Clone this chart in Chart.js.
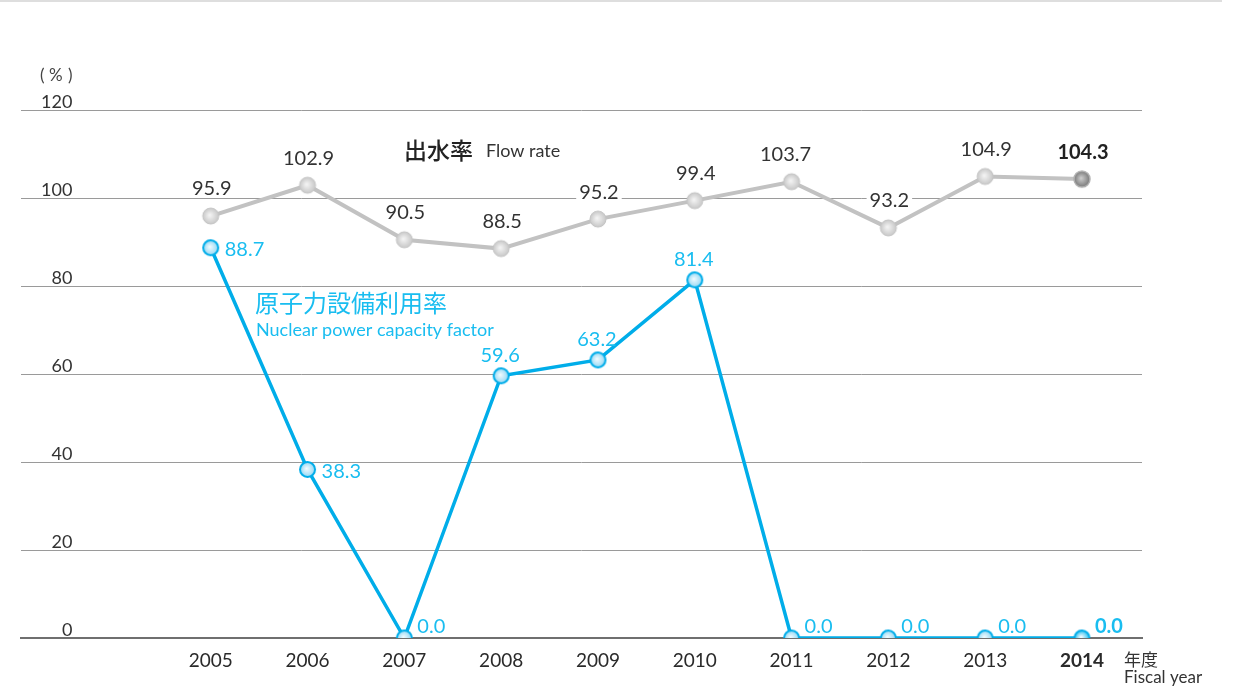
<!DOCTYPE html>
<html>
<head>
<meta charset="utf-8">
<script src="https://cdn.jsdelivr.net/npm/chart.js@4.4.1/dist/chart.umd.min.js"></script>
<style>
  html, body { margin: 0; padding: 0; background: #fff; }
  #wrap { width: 1237px; height: 686px; position: relative; }
</style>
</head>
<body>
<div id="wrap"><canvas id="chart"></canvas></div>
<script>
// Data
const years = [2005, 2006, 2007, 2008, 2009, 2010, 2011, 2012, 2013, 2014];
const flowRate = [95.9, 102.9, 90.5, 88.5, 95.2, 99.4, 103.7, 93.2, 104.9, 104.3];
const nuclearFactor = [88.7, 38.3, 0.0, 59.6, 63.2, 81.4, 0.0, 0.0, 0.0, 0.0];
const yTicks = [0, 20, 40, 60, 80, 100, 120];

const FONT = 'Lato, "Noto Sans CJK JP", sans-serif';
const CJK = '"Noto Sans CJK JP", Lato, sans-serif';
const GRAY = '#c2c2c2';
const CYAN = '#00ade9';
const CYAN_TEXT = '#19bdf0';

// Marker images (small gradient circles)
function marker(inner, outer, border, borderWidth, r) {
    const c = document.createElement('canvas');
    const size = (r + 2) * 2;
    c.width = size;
    c.height = size;
    const g = c.getContext('2d');
    const m = size / 2;
    const grad = g.createRadialGradient(m - 1, m - 1, 0, m, m, r);
    grad.addColorStop(0, inner);
    grad.addColorStop(1, outer);
    g.beginPath();
    g.arc(m, m, r, 0, Math.PI * 2);
    g.fillStyle = grad;
    g.fill();
    g.lineWidth = borderWidth;
    g.strokeStyle = border;
    g.stroke();
    return c;
}
const grayDot = marker('#f6f6f6', '#c8c8c8', '#c4c4c4', 1, 8);
const grayDotLast = marker('#cfcfcf', '#7a7a7a', '#b0b0b0', 1.5, 8);
const cyanDot = marker('#f4fcff', '#94d8f4', CYAN, 2, 7.5);
const cyanDotLast = marker('#ffffff', '#2ec0f0', CYAN, 2, 7.5);

const flowStyles = years.map((y, i) => i === years.length - 1 ? grayDotLast : grayDot);
const nuclearStyles = years.map((y, i) => i === years.length - 1 ? cyanDotLast : cyanDot);

// Where each nuclear label goes relative to its point
const nuclearLabelPos = ['right', 'right', 'upright', 'above', 'above', 'above', 'upright', 'upright', 'upright', 'upright'];

// Value labels + free text
const labelsPlugin = {
    id: 'labels',
    afterDatasetsDraw(chart) {
        const ctx = chart.ctx;
        const last = years.length - 1;
        ctx.save();
        ctx.textBaseline = 'middle';

        // flow rate labels, above the points, white backing masks grid
        chart.getDatasetMeta(1).data.forEach((pt, i) => {
            const txt = flowRate[i].toFixed(1);
            ctx.font = (i === last ? 'bold ' : '') + '20px ' + FONT;
            const w = ctx.measureText(txt).width;
            const x = pt.x + (i === 6 ? -6 : 1);
            const y = pt.y - 27;
            ctx.fillStyle = '#fff';
            ctx.fillRect(x - w / 2 - 3, y - 7, w + 6, 14);
            ctx.fillStyle = i === last ? '#222' : '#333';
            ctx.textAlign = 'center';
            ctx.fillText(txt, x, y);
        });

        // nuclear factor labels
        chart.getDatasetMeta(0).data.forEach((pt, i) => {
            const txt = nuclearFactor[i].toFixed(1);
            ctx.font = (i === last ? 'bold ' : '') + '20px ' + FONT;
            ctx.fillStyle = CYAN_TEXT;
            const pos = nuclearLabelPos[i];
            if (pos === 'above') {
                ctx.textAlign = 'center';
                ctx.fillText(txt, pt.x - 1, pt.y - 20);
            } else if (pos === 'right') {
                ctx.textAlign = 'left';
                ctx.fillText(txt, pt.x + 14, pt.y + 2);
            } else {
                ctx.textAlign = 'left';
                ctx.fillText(txt, pt.x + 13, pt.y - 11);
            }
        });

        // series names
        ctx.textAlign = 'left';
        ctx.fillStyle = '#222';
        ctx.font = '500 23px ' + CJK;
        ctx.fillText('出水率', 404, 150);
        ctx.fillStyle = '#333';
        ctx.font = '18px ' + FONT;
        ctx.fillText('Flow rate', 486, 151);

        ctx.fillStyle = CYAN_TEXT;
        ctx.font = '24px ' + CJK;
        ctx.fillText('原子力設備利用率', 255, 303);
        ctx.font = '18px ' + FONT;
        ctx.fillText('Nuclear power capacity factor', 256, 330);

        // axis captions
        ctx.fillStyle = '#444';
        ctx.font = '17px ' + FONT;
        ctx.fillText('(', 40, 76);
        ctx.fillText('%', 49, 76);
        ctx.fillText(')', 68, 76);
        ctx.fillStyle = '#333';
        ctx.font = '17px ' + CJK;
        ctx.fillText('年度', 1124, 660);
        ctx.font = '17px ' + FONT;
        ctx.fillText('Fiscal year', 1124, 678);

        // thin rule along the top edge
        ctx.fillStyle = '#dedede';
        ctx.fillRect(0, 0, 1222, 2);
        ctx.restore();
    },
};

new Chart(document.getElementById('chart').getContext('2d'), {
    type: 'line',
    data: {
        datasets: [
            {
                label: '原子力設備利用率',
                data: years.map((y, i) => ({ x: y, y: nuclearFactor[i] })),
                borderColor: CYAN,
                borderWidth: 3.5,
                pointStyle: nuclearStyles,
                pointRadius: 8,
                tension: 0,
            },
            {
                label: '出水率',
                data: years.map((y, i) => ({ x: y, y: flowRate[i] })),
                borderColor: GRAY,
                borderWidth: 4,
                pointStyle: flowStyles,
                pointRadius: 8,
                tension: 0,
            },
        ],
    },
    options: {
        responsive: true,
        maintainAspectRatio: false,
        animation: false,
        layout: { padding: { left: 21, right: 95, top: 110, bottom: 0 } },
        plugins: {
            legend: { display: false },
            tooltip: { enabled: false },
        },
        scales: {
            x: {
                type: 'linear',
                min: 2003.04,
                max: 2014.62,
                afterBuildTicks: (scale) => {
                    scale.ticks = years.map(v => ({ value: v }));
                },
                afterFit: (scale) => { scale.height = 48; },
                grid: { display: false, drawTicks: false },
                border: { display: true, color: '#6f6f6f', width: 2 },
                ticks: {
                    padding: 11,
                    color: '#2a2a2a',
                    autoSkip: false,
                    maxRotation: 0,
                    callback: v => String(v),
                    font: (c) => ({
                        family: FONT,
                        size: 19,
                        weight: c.tick && c.tick.value === 2014 ? 'bold' : 'normal',
                    }),
                },
            },
            y: {
                min: 0,
                max: 120,
                afterBuildTicks: (scale) => {
                    scale.ticks = yTicks.map(v => ({ value: v }));
                },
                afterFit: (scale) => { scale.width = 0; },
                grid: { color: '#9a9a9a', lineWidth: 1, drawTicks: false },
                border: { display: false },
                ticks: {
                    mirror: true,
                    crossAlign: 'far',
                    padding: 20,
                    labelOffset: -8,
                    color: '#333',
                    font: { family: FONT, size: 18 },
                },
            },
        },
    },
    plugins: [labelsPlugin],
});
</script>
</body>
</html>
